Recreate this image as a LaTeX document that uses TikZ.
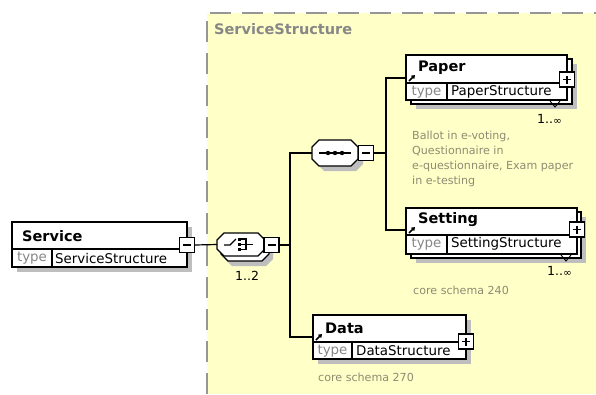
\documentclass[tikz,border=0pt]{standalone}
\usepackage{fontspec}
\setmainfont{DejaVu Sans}
\usetikzlibrary{arrows.meta}
\definecolor{bgy}{RGB}{255,255,200}
\definecolor{shd}{RGB}{190,190,190}
\definecolor{dsh}{RGB}{150,150,150}
\definecolor{txg}{RGB}{135,135,135}
\definecolor{dsc}{RGB}{140,140,115}
\newcommand\octshape[5]{\path[#1] ({#2+7},#3) -- ({#4-7},#3) -- (#4,{#3+7}) -- (#4,{#5-7}) -- ({#4-7},#5) -- ({#2+7},#5) -- (#2,{#5-7}) -- (#2,{#3+7}) -- cycle;}
\newcommand\occ[1]{1..\raisebox{-1pt}{\fontsize{10.5}{10}\selectfont#1}}
\begin{document}
\begin{tikzpicture}[x=1pt,y=-1pt,
  ln/.style={line width=1.2pt,draw=black},
  bx/.style={draw=black,fill=white,line width=1.2pt,inner sep=0pt,outer sep=0pt},
  shadowbox/.style={fill=shd,draw=none},
  btn/.style={draw=black,fill=white,line width=1.2pt,minimum size=15pt,inner sep=0pt,outer sep=0pt},
  octdraw/.style={draw=black,fill=white,line width=1.2pt},
  octfill/.style={fill=shd},
  anchorbox/.style={inner sep=0pt,outer sep=0pt},
  nm/.style={font=\fontsize{14.5}{16}\selectfont\bfseries,inner sep=0pt,anchor=west},
  ty/.style={font=\fontsize{13.4}{15}\selectfont,text=txg,inner sep=0pt},
  tt/.style={font=\fontsize{13.4}{15}\selectfont,inner sep=0pt,anchor=west},
  ds/.style={font=\fontsize{11.1}{15}\selectfont,text=dsc,inner sep=0pt},
  oc/.style={font=\fontsize{12.5}{13}\selectfont,inner sep=0pt,anchor=west},
  icon/.style={line width=1.5pt,-{Triangle[length=3.5pt,width=4.5pt]}},
  sym/.style={line width=1.2pt}
]
\useasboundingbox (0,0) rectangle (596,394);
% background area
\fill[bgy] (207,13) rectangle (596,394);
\draw[dsh,line width=1.3pt,dash pattern=on 21pt off 11pt] (207,394) -- (207,13) -- (596,13);
\node[font=\fontsize{14.5}{16}\selectfont\bfseries,text=txg,inner sep=0pt,anchor=west] (title) at (214,29) {ServiceStructure};

% ---------- Service ----------
\fill[shadowbox] (17,227) rectangle (192,272);
\node[bx,minimum width=175pt,minimum height=45pt,anchor=north west] (service) at (12,222) {};
\draw[ln] (12,249) -- (187,249);
\draw[ln] (52,249) -- (52,267);
\node[nm] at (22,236) {Service};
\node[ty] at (32,258) {type};
\node[tt] at (55,258) {ServiceStructure};
\node[btn] (svcbtn) at (187,245) {};
\draw[sym] ([xshift=-4pt]svcbtn.center) -- ([xshift=4pt]svcbtn.center);

% ---------- Choice ----------
\octshape{octfill}{225}{243}{273}{266}
\octshape{octdraw}{221}{238}{269}{261}
\octshape{octdraw}{217}{233}{265}{256}
\node[anchorbox,minimum width=48pt,minimum height=23pt] (choice) at (241,244.5) {};
\draw[sym] (224,245) -- (230,245) -- (236,239);
\fill (237.5,237.5) rectangle (241,241);
\fill (237.5,242.5) rectangle (241,246);
\fill (237.5,247.5) rectangle (241,251);
\draw[sym] (241,239) -- (246,239) -- (246,249.5) -- (241,249.5);
\draw[sym] (241,244.3) -- (253,244.3);
\node[btn] (choicebtn) at (271.5,245) {};
\draw[sym] ([xshift=-4pt]choicebtn.center) -- ([xshift=4pt]choicebtn.center);
\node[oc] (choiceocc) at (235,276) {1..2};
\draw[ln] (svcbtn.east) -- (choice.west);

% ---------- Sequence ----------
\octshape{octfill}{317}{145}{363}{171}
\octshape{octdraw}{312}{140}{358}{166}
\node[anchorbox,minimum width=46pt,minimum height=26pt] (seq) at (335,153) {};
\draw[sym] (319,153) -- (351,153);
\fill (328,153) circle (2.2pt) (335,153) circle (2.2pt) (342,153) circle (2.2pt);
\node[btn] (seqbtn) at (366,153) {};
\draw[sym] ([xshift=-4pt]seqbtn.center) -- ([xshift=4pt]seqbtn.center);

\coordinate (j1) at (290,245);
\coordinate (j2) at (386,153);
\coordinate (paperIn) at (406,78);
\coordinate (settingIn) at (406,230);
\coordinate (dataIn) at (313,337);
\draw[ln] (choicebtn.east) -- (j1);
\draw[ln] (seq.west) -| (j1) |- (dataIn);
\draw[ln] (seqbtn.east) -- (j2);
\draw[ln] (paperIn) -| (j2) |- (settingIn);

% ---------- Paper ----------
\fill[shadowbox] (416,64) rectangle (577,109);
\draw[bx] (411,59) rectangle (572,104);
\node[bx,minimum width=161pt,minimum height=45pt,anchor=north west] (paper) at (406,55) {};
\draw[ln] (406,83) -- (567,83);
\draw[ln] (447,83) -- (447,100);
\draw[icon] (409,81) -- (415,75);
\node[nm] at (418,68) {Paper};
\node[ty] at (426.5,92) {type};
\node[tt] at (451,92) {PaperStructure};
\node[btn] (paperbtn) at (567,79.5) {};
\draw[sym] ([xshift=-4pt]paperbtn.center) -- ([xshift=4pt]paperbtn.center);
\draw[sym] ([yshift=-4pt]paperbtn.center) -- ([yshift=4pt]paperbtn.center);
\draw[line width=0.9pt] (550,101) -- (555,107) -- (560,101);
\node[oc] at (537,119) {\occ{∞}};
\node[ds,align=left,anchor=north west] at (412,131) {Ballot in e-voting,\\Questionnaire in\\e-questionnaire, Exam paper\\in e-testing};

% ---------- Setting ----------
\fill[shadowbox] (416,217) rectangle (586,263);
\draw[bx] (411,212) rectangle (581,258);
\node[bx,minimum width=171pt,minimum height=46pt,anchor=north west] (setting) at (406,208) {};
\draw[ln] (406,235) -- (577,235);
\draw[ln] (447,235) -- (447,254);
\draw[icon] (409,233) -- (415,227);
\node[nm] at (418,220) {Setting};
\node[ty] at (426.5,244) {type};
\node[tt] at (451,244) {SettingStructure};
\node[btn] (settingbtn) at (577,229.5) {};
\draw[sym] ([xshift=-4pt]settingbtn.center) -- ([xshift=4pt]settingbtn.center);
\draw[sym] ([yshift=-4pt]settingbtn.center) -- ([yshift=4pt]settingbtn.center);
\draw[line width=0.9pt] (561,255) -- (566,261) -- (571,255);
\node[oc] at (547,271) {\occ{∞}};
\node[ds,anchor=west] at (413,290) {core schema 240};

% ---------- Data ----------
\fill[shadowbox] (318,320) rectangle (471,364);
\node[bx,minimum width=153pt,minimum height=44pt,anchor=north west] (data) at (313,315) {};
\draw[ln] (313,342) -- (466,342);
\draw[ln] (352,342) -- (352,359);
\draw[icon] (316,340) -- (322,334);
\node[nm] at (325,328) {Data};
\node[ty] at (332.5,351) {type};
\node[tt] at (356,351) {DataStructure};
\node[btn] (databtn) at (466,341.5) {};
\draw[sym] ([xshift=-4pt]databtn.center) -- ([xshift=4pt]databtn.center);
\draw[sym] ([yshift=-4pt]databtn.center) -- ([yshift=4pt]databtn.center);
\node[ds,anchor=west] at (318,377) {core schema 270};
\end{tikzpicture}
\end{document}
